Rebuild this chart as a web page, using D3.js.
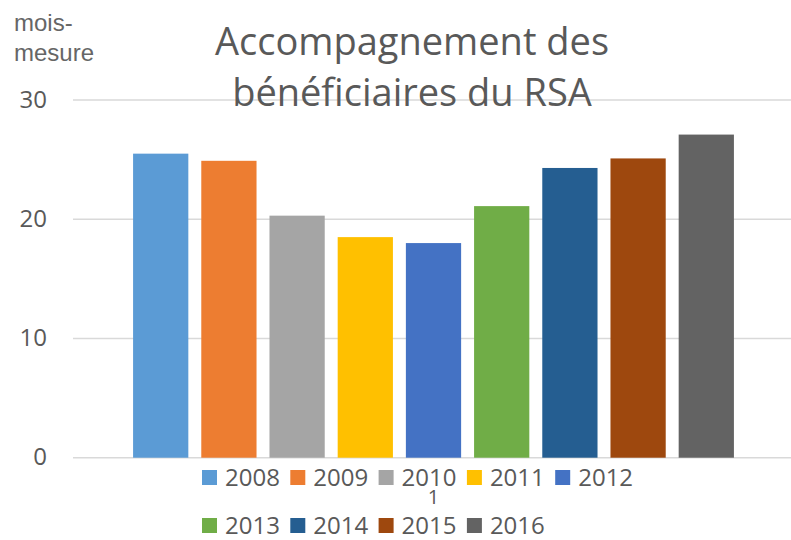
<!DOCTYPE html>
<html>
<head>
<meta charset="utf-8">
<script src="https://cdn.jsdelivr.net/npm/d3@7"></script>
<style>
  html, body { margin: 0; padding: 0; background: #fff; }
  svg { display: block; }
</style>
</head>
<body>
<svg id="chart" width="791" height="540"></svg>
<script>
// ---- data ----
const categories = ["1"];
const seriesNames = ["2008", "2009", "2010", "2011", "2012", "2013", "2014", "2015", "2016"];
const seriesValues = [25.5, 24.9, 20.3, 18.5, 18.0, 21.1, 24.3, 25.1, 27.1];
const seriesColors = ["#5B9BD5", "#ED7D31", "#A5A5A5", "#FFC000", "#4472C4", "#70AD47", "#255E91", "#9E480E", "#636363"];
const yTicks = [0, 10, 20, 30];
const titleLines = ["Accompagnement des", "bénéficiaires du RSA"];
const yLabelLines = ["mois-", "mesure"];

// ---- layout ----
const plot = { left: 73, right: 794, top: 100, bottom: 457.7 };
const textColor = "#595959";
const font = "'Open Sans', sans-serif";

const svg = d3.select("#chart");

const y = d3.scaleLinear().domain([0, 30]).range([plot.bottom, plot.top]);
const x0 = d3.scaleBand().domain(categories).range([plot.left, plot.right]).paddingInner(0).paddingOuter(0.1);
const x1 = d3.scaleBand().domain(seriesNames).range([0, x0.bandwidth()]).paddingInner(0.19).paddingOuter(0);

// gridlines
const grid = svg.append("g");
grid.selectAll("line").data(yTicks).join("line")
  .attr("x1", plot.left).attr("x2", plot.right)
  .attr("y1", d => y(d)).attr("y2", d => y(d))
  .attr("stroke", "#D9D9D9").attr("stroke-width", 1.5);

// y axis labels via d3 axis
const yAxis = d3.axisLeft(y).tickValues(yTicks).tickSize(0).tickPadding(0).tickFormat(d3.format("d"));
const yAxisG = svg.append("g").attr("transform", `translate(47,0)`).call(yAxis);
yAxisG.select(".domain").remove();
yAxisG.selectAll("text")
  .attr("font-family", font).attr("font-size", 24).attr("fill", textColor)
  .attr("dy", "0.3em");

// bars
const groups = svg.append("g").selectAll("g").data(categories).join("g")
  .attr("transform", d => `translate(${x0(d)},0)`);
groups.selectAll("rect")
  .data(() => seriesNames.map((s, i) => ({ s, v: seriesValues[i], c: seriesColors[i] })))
  .join("rect")
  .attr("x", d => x1(d.s))
  .attr("width", x1.bandwidth())
  .attr("y", d => y(d.v))
  .attr("height", d => y(0) - y(d.v))
  .attr("fill", d => d.c);

// category axis label
const xAxis = d3.axisBottom(x0).tickSize(0).tickPadding(0);
const xAxisG = svg.append("g").attr("transform", `translate(0,${plot.bottom})`).call(xAxis);
xAxisG.select(".domain").remove();
xAxisG.selectAll("text")
  .attr("font-family", font).attr("font-size", 20).attr("fill", textColor)
  .attr("dy", 0).attr("y", 46);

// title
const title = svg.append("text")
  .attr("text-anchor", "middle")
  .attr("font-family", font).attr("font-size", 38).attr("fill", textColor);
title.selectAll("tspan").data(titleLines).join("tspan")
  .attr("x", 412).attr("y", (d, i) => 55 + i * 51)
  .text(d => d);

// y label
const ylab = svg.append("text")
  .attr("font-family", "'Liberation Sans', Arial, sans-serif").attr("font-size", 24).attr("fill", "#666666");
ylab.selectAll("tspan").data(yLabelLines).join("tspan")
  .attr("x", 14).attr("y", (d, i) => 31 + i * 30)
  .text(d => d);

// legend
const legendX = 202, legendStep = 88.3;
const rows = [seriesNames.slice(0, 5), seriesNames.slice(5)];
const rowY = [478, 526];
const legend = svg.append("g");
rows.forEach((row, r) => {
  const g = legend.append("g");
  const items = g.selectAll("g").data(row).join("g")
    .attr("transform", (d, i) => `translate(${legendX + i * legendStep},${rowY[r]})`);
  items.append("rect")
    .attr("x", 0).attr("y", -8).attr("width", 15).attr("height", 15)
    .attr("fill", d => seriesColors[seriesNames.indexOf(d)]);
  items.append("text")
    .attr("x", 23).attr("y", 0).attr("dy", "0.35em")
    .attr("font-family", font).attr("font-size", 24).attr("fill", textColor)
    .text(d => d);
});
</script>
</body>
</html>
